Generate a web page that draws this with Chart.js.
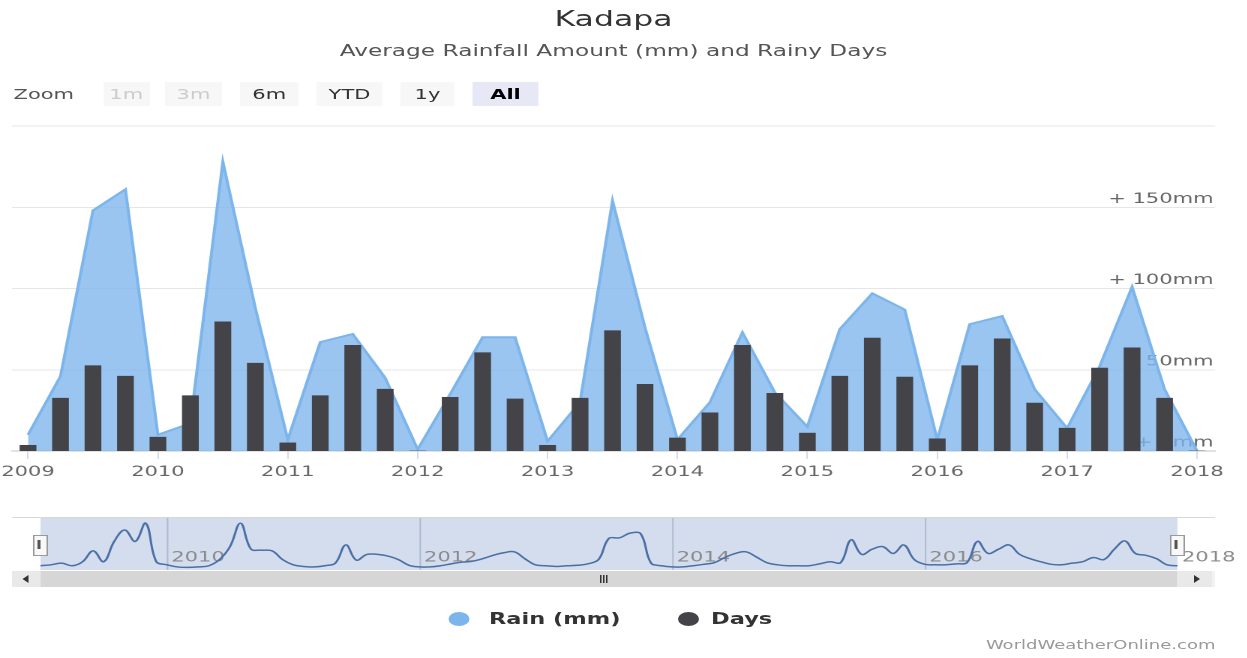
<!DOCTYPE html>
<html>
<head>
<meta charset="utf-8">
<script src="https://cdn.jsdelivr.net/npm/chart.js@4.4.1/dist/chart.umd.min.js"></script>
<style>
html,body{margin:0;padding:0;background:#fff;overflow:hidden;}
body{width:1247px;height:658px;position:relative;font-family:"DejaVu Sans",sans-serif;}
#stage{position:absolute;left:0;top:0;width:831.33px;height:658px;transform:scaleX(1.5);transform-origin:0 0;}
.abs{position:absolute;white-space:nowrap;}
#title{left:0;width:818px;top:7px;text-align:center;font-size:21px;color:#333;line-height:24px;}
#subtitle{left:0;width:818px;top:41px;text-align:center;font-size:15.5px;color:#555;line-height:20px;}
#zlabel{left:9px;top:84px;font-size:14px;color:#555;line-height:20px;}
.btn{top:82px;height:24px;line-height:24px;text-align:center;font-size:14px;background:#f7f7f7;color:#333;}
.btn.dis{color:#ccc;}
.btn.sel{background:#e6e9f5;color:#000;font-weight:bold;}
.leg{top:609px;font-size:15px;font-weight:bold;color:#333;line-height:20px;}
.dot{top:612px;width:14px;height:14px;border-radius:50%;}
#footer{top:637px;right:21px;font-size:12px;color:#999;line-height:16px;}
</style>
</head>
<body>
<div id="stage">
  <div id="title" class="abs">Kadapa</div>
  <div id="subtitle" class="abs">Average Rainfall Amount (mm) and Rainy Days</div>
  <div id="zlabel" class="abs">Zoom</div>
  <div class="abs btn dis" style="left:68.7px;width:31px;">1m</div>
  <div class="abs btn dis" style="left:110px;width:38px;">3m</div>
  <div class="abs btn" style="left:160px;width:39px;">6m</div>
  <div class="abs btn" style="left:211px;width:44px;">YTD</div>
  <div class="abs btn" style="left:267px;width:36px;">1y</div>
  <div class="abs btn sel" style="left:315px;width:44px;">All</div>

  <div class="abs" style="left:0;top:110px;"><canvas id="main" width="831" height="380"></canvas></div>

  <!-- navigator -->
  <div class="abs" style="left:8px;top:517px;width:802px;height:1px;background:#d8d8d8;"></div>
  <div class="abs" style="left:26.67px;top:518px;"><canvas id="nav" width="800" height="52"></canvas></div>
  <div class="abs" style="left:22.3px;top:535px;width:7.5px;height:19px;background:#f8f8f8;border:1px solid #999;"></div>
  <div class="abs" style="left:24.6px;top:540px;width:0.8px;height:9px;background:#555;"></div>
  <div class="abs" style="left:26.4px;top:540px;width:0.8px;height:9px;background:#555;"></div>
  <div class="abs" style="left:780.3px;top:535px;width:7.5px;height:19px;background:#f8f8f8;border:1px solid #999;"></div>
  <div class="abs" style="left:782.6px;top:540px;width:0.8px;height:9px;background:#555;"></div>
  <div class="abs" style="left:784.4px;top:540px;width:0.8px;height:9px;background:#555;"></div>

  <!-- scrollbar -->
  <div class="abs" style="left:8px;top:571px;width:802px;height:16px;background:#f2f2f2;"></div>
  <div class="abs" style="left:8px;top:571px;width:18.67px;height:16px;background:#e9e9e9;"></div>
  <div class="abs" style="left:26.67px;top:571px;width:758px;height:16px;background:#d6d6d6;"></div>
  <div class="abs" style="left:785.3px;top:571px;width:23px;height:16px;background:#e9e9e9;"></div>
  <div class="abs" style="left:14.5px;top:575px;width:0;height:0;border-top:4px solid transparent;border-bottom:4px solid transparent;border-right:4px solid #333;"></div>
  <div class="abs" style="left:796px;top:575px;width:0;height:0;border-top:4px solid transparent;border-bottom:4px solid transparent;border-left:4px solid #333;"></div>
  <div class="abs" style="left:400px;top:575px;width:0.8px;height:8px;background:#333;"></div>
  <div class="abs" style="left:402px;top:575px;width:0.8px;height:8px;background:#333;"></div>
  <div class="abs" style="left:404px;top:575px;width:0.8px;height:8px;background:#333;"></div>

  <!-- legend -->
  <div class="abs dot" style="left:299px;background:#7cb5ec;"></div>
  <div class="abs leg" style="left:326px;">Rain (mm)</div>
  <div class="abs dot" style="left:452px;background:#434348;"></div>
  <div class="abs leg" style="left:474px;">Days</div>
  <div id="footer" class="abs">WorldWeatherOnline.com</div>
</div>

<script>
// ---- data ----
const quarters = ['2009-01','2009-04','2009-07','2009-10','2010-01','2010-04','2010-07','2010-10',
  '2011-01','2011-04','2011-07','2011-10','2012-01','2012-04','2012-07','2012-10',
  '2013-01','2013-04','2013-07','2013-10','2014-01','2014-04','2014-07','2014-10',
  '2015-01','2015-04','2015-07','2015-10','2016-01','2016-04','2016-07','2016-10',
  '2017-01','2017-04','2017-07','2017-10','2018-01'];
const rainMm = [10,46,148,161,10,17,178,88,7,67,72,45,1,35,70,70,6,30,154,76,7,30,73,36,15,75,97,87,7,78,83,38,14,52,101,38,0];
const rainyDays = [0.7,6.5,10.5,9.2,1.7,6.8,15.9,10.8,1.0,6.8,13.0,7.6,0,6.6,12.1,6.4,0.7,6.5,14.8,8.2,1.6,4.7,13.0,7.1,2.2,9.2,13.9,9.1,1.5,10.5,13.8,5.9,2.8,10.2,12.7,6.5,0];
const yearLabels = ['2009','2010','2011','2012','2013','2014','2015','2016','2017','2018'];
const yLabelValues = [0,50,100,150];
const navStartMonth = '2009-01';
const navMonthlyRain = [18,22,29,18,35,81,35,121,169,121,198,35,
  22,13,11,13,18,44,99,198,88,84,81,44,
  22,15,13,18,29,106,42,66,66,59,44,20,
  13,13,18,26,33,37,48,62,73,77,48,22,
  18,15,18,20,26,44,134,136,156,154,29,18,
  13,13,18,24,31,53,70,77,55,31,22,18,
  18,18,26,35,31,128,66,88,99,70,106,44,
  24,22,22,26,31,121,70,88,106,66,48,35,
  24,22,29,35,53,44,88,123,70,62,48,22,18];
const navLabels = ['2010','2012','2014','2016','2018'];

// ---- helpers ----
const baseYear = 2009;
function monthIndex(s){ const p = s.split('-').map(Number); return (p[0]-baseYear)*12 + (p[1]-1); }
const qx = quarters.map(monthIndex);
const yearTickMonths = yearLabels.map(y => monthIndex(y + '-01'));
const navStart = monthIndex(navStartMonth);
const navLabelMonths = navLabels.map(y => monthIndex(y + '-01'));
const FONT = '"DejaVu Sans", sans-serif';

const yLabelPlugin = {
  id: 'ylabels',
  beforeDatasetsDraw(chart){
    const {ctx, chartArea, scales} = chart;
    ctx.save();
    ctx.font = '14px ' + FONT;
    ctx.fillStyle = '#666';
    ctx.textAlign = 'right';
    ctx.textBaseline = 'bottom';
    yLabelValues.forEach(v => ctx.fillText('+ ' + v + 'mm', chartArea.right - 1, scales.y.getPixelForValue(v) - 1));
    ctx.restore();
  }
};

new Chart(document.getElementById('main'), {
  type: 'bar',
  data: {
    datasets: [
      { type: 'bar', label: 'Days', data: qx.map((x,i)=>({x, y: rainyDays[i]})), yAxisID: 'yDays',
        backgroundColor: '#434348', barThickness: 10.5, order: 0 },
      { type: 'line', label: 'Rain (mm)', data: qx.map((x,i)=>({x, y: rainMm[i]})), yAxisID: 'y',
        borderColor: '#7cb5ec', backgroundColor: 'rgba(124,181,236,0.78)', fill: 'origin',
        tension: 0, pointRadius: 0, borderWidth: 2, order: 1 }
    ]
  },
  options: {
    responsive: false, animation: false, devicePixelRatio: 2,
    layout: { padding: { left: 8, right: 21, top: 16, bottom: 0 } },
    plugins: { legend: { display: false }, tooltip: { enabled: false } },
    scales: {
      x: {
        type: 'linear', min: -1.48, max: 109.66, offset: false,
        afterBuildTicks: s => { s.ticks = yearTickMonths.map(v => ({ value: v })); },
        ticks: { callback: v => yearLabels[yearTickMonths.indexOf(v)], font: { family: FONT, size: 14 },
                 color: '#666', padding: 5, maxRotation: 0, autoSkip: false },
        grid: { offset: false, drawOnChartArea: false, tickLength: 8, color: '#d4dbe8' },
        border: { color: '#c4c4c4' },
        afterFit: s => { s.height = 39; s.paddingLeft = 0; s.paddingRight = 0; }
      },
      y: {
        position: 'right', min: 0, max: 200,
        ticks: { stepSize: 50, display: false },
        grid: { color: '#e6e6e6', drawTicks: false },
        border: { display: false },
        afterFit: s => { s.width = 0; s.paddingTop = 0; s.paddingBottom = 0; }
      },
      yDays: { display: false, min: 0, max: 40 }
    }
  },
  plugins: [yLabelPlugin]
});

const navPlugin = {
  id: 'navbg',
  beforeDatasetsDraw(chart){
    const {ctx, chartArea, scales} = chart;
    ctx.save();
    ctx.fillStyle = 'rgba(102,133,194,0.28)';
    ctx.fillRect(chartArea.left, chartArea.top, chartArea.right - chartArea.left, chartArea.bottom - chartArea.top);
    ctx.strokeStyle = 'rgba(110,120,150,0.35)';
    ctx.lineWidth = 1;
    ctx.font = '14px ' + FONT;
    ctx.fillStyle = '#8a8a8a';
    ctx.textBaseline = 'middle';
    ctx.textAlign = 'left';
    navLabelMonths.forEach((m, i) => {
      const px = scales.x.getPixelForValue(m);
      if (m < 108) {
        ctx.beginPath(); ctx.moveTo(px + 0.5, chartArea.top); ctx.lineTo(px + 0.5, chartArea.bottom); ctx.stroke();
      }
      ctx.fillText(navLabels[i], px + 3, 40);
    });
    ctx.restore();
  }
};

new Chart(document.getElementById('nav'), {
  type: 'line',
  data: { datasets: [{ data: navMonthlyRain.map((v,i)=>({x: navStart + i, y: v})), borderColor: '#4a6fa5',
    borderWidth: 1.5, pointRadius: 0, tension: 0.4, fill: false }] },
  options: {
    responsive: false, animation: false, devicePixelRatio: 2,
    layout: { padding: { left: 0, right: 42, top: 0, bottom: 0 } },
    plugins: { legend: { display: false }, tooltip: { enabled: false } },
    scales: {
      x: { type: 'linear', display: false, min: 0, max: 108 },
      y: { display: false, min: 0, max: 220 }
    }
  },
  plugins: [navPlugin]
});
</script>
</body>
</html>
